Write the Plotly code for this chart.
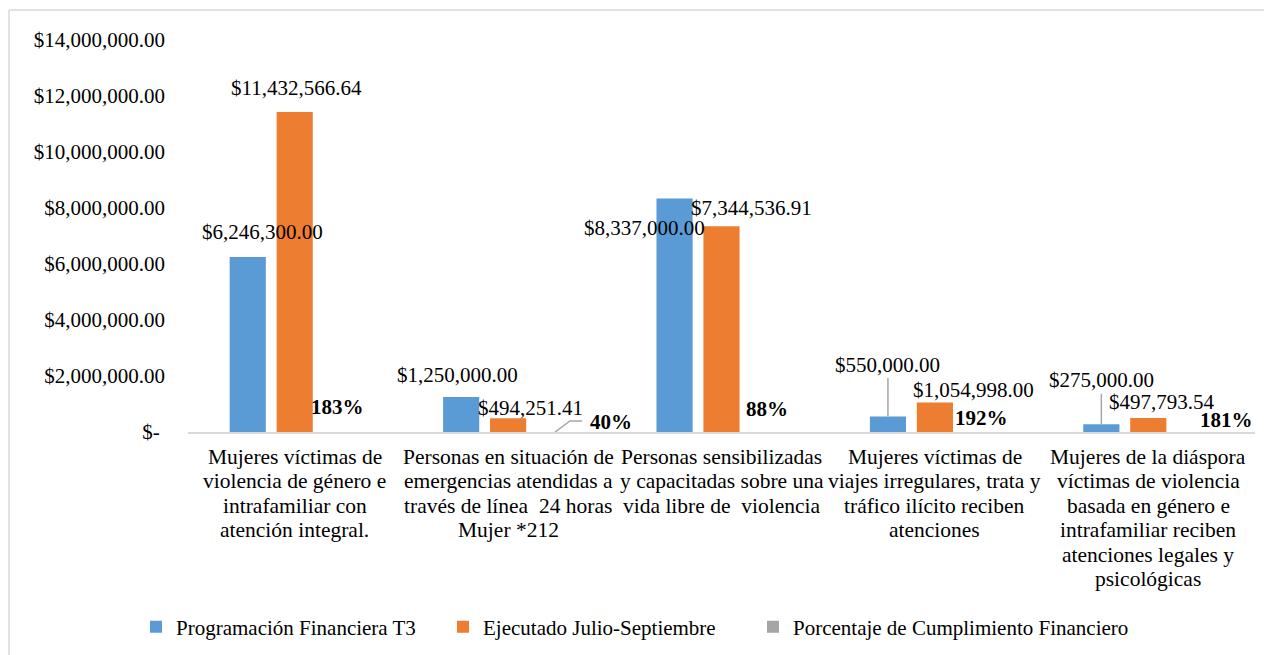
import plotly.graph_objects as go

categories = [
    "Mujeres víctimas de<br>violencia de género e<br>intrafamiliar con<br>atención integral.",
    "Personas en situación de<br>emergencias atendidas a<br>través de línea  24 horas<br>Mujer *212",
    "Personas sensibilizadas<br>y capacitadas sobre una<br>vida libre de  violencia",
    "Mujeres víctimas de<br>viajes irregulares, trata y<br>tráfico ilícito reciben<br>atenciones",
    "Mujeres de la diáspora<br>víctimas de violencia<br>basada en género e<br>intrafamiliar reciben<br>atenciones legales y<br>psicológicas",
]
programacion = [6246300.00, 1250000.00, 8337000.00, 550000.00, 275000.00]
ejecutado = [11432566.64, 494251.41, 7344536.91, 1054998.00, 497793.54]
porcentaje = [1.83, 0.40, 0.88, 1.92, 1.81]

series_names = ["Programación Financiera T3", "Ejecutado Julio-Septiembre",
                "Porcentaje de Cumplimiento Financiero"]
colors = ["#5b9bd5", "#ed7d31", "#a5a5a5"]

tick_vals = [0, 2e6, 4e6, 6e6, 8e6, 10e6, 12e6, 14e6]
tick_text = ["$-\u00a0"] + [f"${v:,.2f}" for v in tick_vals[1:]]

FONT = "Liberation Serif, Times New Roman, serif"
OFF = 8  # page body margin
W, H = 1272 - OFF, 655 - OFF
L = 188 - OFF
T = 40 - OFF
R = W - (1255 - OFF)
B = H - (432 - OFF)
PW, PH = W - L - R, H - T - B


def px(xp):  # page x -> paper
    return (xp - OFF - L) / PW


def py(yp):  # page y -> paper
    return (H - B - (yp - OFF)) / PH


fig = go.Figure()
legend_ids = ["legend", "legend2", "legend3"]
for name, vals, col, lg in zip(series_names, [programacion, ejecutado, porcentaje], colors, legend_ids):
    fig.add_trace(go.Bar(x=list(range(len(categories))), y=vals, name=name, legend=lg,
                         marker=dict(color=col, line=dict(width=0)), hoverinfo="skip"))

n = 3
bargap = 0.34
slot = (1 - bargap) / n
offsets = [(i - 1) * slot for i in range(n)]

shifts = [
    [(15, 25), (-4, 22), (-30, -29), (2, 52), (3, 44)],
    [(2, 24), (22, 10), (30, 18), (39, 12), (14, 16)],
    [(-4, 25), (56, 10), (-1, 23), (0, 14), (31, 12)],
]
arrows = {(0, 3), (0, 4)}

annotations = []
for s, vals in enumerate([programacion, ejecutado, porcentaje]):
    for c, v in enumerate(vals):
        if s < 2:
            txt = f"${v:,.2f}"
        else:
            txt = f"<b>{round(v * 100)}%</b>"
        font = dict(family=FONT, size=21, color="#000000")
        dx, dy = shifts[s][c]
        if (s, c) in arrows:
            annotations.append(dict(x=c + offsets[s], y=v, xref="x", yref="y", text=txt,
                                    showarrow=True, ax=0, ay=-dy, arrowhead=0, arrowwidth=1.5,
                                    arrowcolor="#a6a6a6", standoff=0, font=font))
        else:
            annotations.append(dict(x=c + offsets[s], y=v, xref="x", yref="y", text=txt,
                                    showarrow=False, xshift=dx, yshift=dy, font=font))

# category labels, one line each
first_line_y, line_gap = 457, 24.4
for c, label in enumerate(categories):
    for k, line in enumerate(label.split("<br>")):
        annotations.append(dict(x=c, y=py(first_line_y + k * line_gap), xref="x", yref="paper",
                                text=line, showarrow=False, xanchor="center", yanchor="middle",
                                font=dict(family=FONT, size=21.5, color="#000000")))

shapes = [
    dict(type="path", xref="x", yref="y", xsizemode="pixel", ysizemode="pixel",
         xanchor=1 + offsets[2], yanchor=porcentaje[1],
         path="M 0,0 L 15,11 L 27,11", line=dict(color="#a6a6a6", width=1.5)),
    dict(type="line", xref="paper", yref="paper", x0=px(9), x1=px(1272), y0=py(10), y1=py(10),
         line=dict(color="#d9d9d9", width=1.5)),
    dict(type="line", xref="paper", yref="paper", x0=px(9), x1=px(9), y0=py(10), y1=py(655),
         line=dict(color="#d9d9d9", width=1.5)),
]

legend_font = dict(family=FONT, size=21, color="#000000")
text_starts = [177, 484, 794]
legends = {}
for lg, xs in zip(legend_ids, text_starts):
    legends[lg] = dict(orientation="h", x=px(xs - 41), xanchor="left", y=py(627), yanchor="middle",
                       font=legend_font, bgcolor="rgba(0,0,0,0)")

fig.update_layout(
    width=W, height=H,
    margin=dict(l=L, r=R, t=T, b=B, autoexpand=False),
    paper_bgcolor="white", plot_bgcolor="white",
    barmode="group", bargap=bargap, bargroupgap=0.23,
    font=dict(family=FONT, size=21, color="#000000"),
    xaxis=dict(tickmode="array", tickvals=list(range(len(categories))), showticklabels=False,
               range=[-0.5, len(categories) - 0.5], showline=True, linecolor="#d9d9d9",
               linewidth=1.5, showgrid=False, zeroline=False, ticks="", automargin=False),
    yaxis=dict(range=[0, 14e6], tickmode="array", tickvals=tick_vals, ticktext=tick_text,
               showgrid=False, zeroline=False, showline=False, ticks="", automargin=False,
               tickfont=dict(family=FONT, size=21, color="#000000"), ticklabelstandoff=22),
    annotations=annotations,
    shapes=shapes,
    showlegend=True,
    **legends,
)

fig.write_html("out.html")
